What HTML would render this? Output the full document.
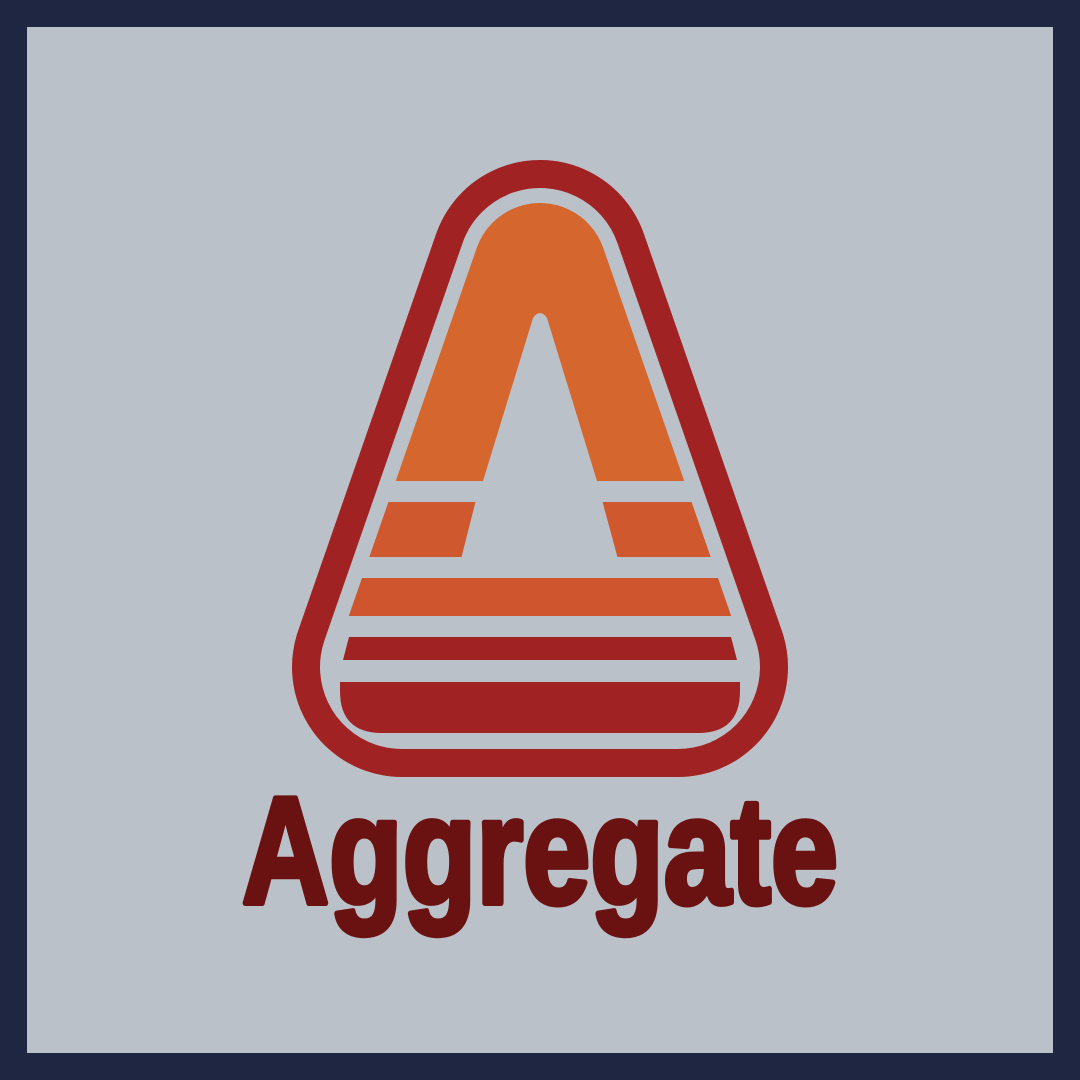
<!DOCTYPE html>
<html><head><meta charset="utf-8"><style>
html,body{margin:0;padding:0;background:#1f2641;}
svg{display:block;}
</style></head><body>
<svg width="1080" height="1080" viewBox="0 0 1080 1080">
  <defs>
    <mask id="inner" maskUnits="userSpaceOnUse" x="0" y="0" width="1080" height="1080">
      <rect x="0" y="0" width="1080" height="1080" fill="#000"/>
      <polygon points="540,270 402,667 678,667" fill="#fff" stroke="#fff" stroke-width="134" stroke-linejoin="round"/>
    </mask>
  </defs>
  <rect x="0" y="0" width="1080" height="1080" fill="#1f2641"/>
  <rect x="27" y="27" width="1026" height="1026" fill="#bbc1c8"/>
  <polygon points="540,270 402,667 678,667" fill="#a02222" stroke="#a02222" stroke-width="220" stroke-linejoin="round"/>
  <polygon points="540,270 402,667 678,667" fill="#bbc1c8" stroke="#bbc1c8" stroke-width="164" stroke-linejoin="round"/>
  <g mask="url(#inner)">
    <rect x="200" y="190" width="700" height="291" fill="#d5672e"/>
    <rect x="200" y="502" width="700" height="55" fill="#d0582e"/>
    <rect x="200" y="578" width="700" height="38" fill="#cf552e"/>
  </g>
  <polygon points="349,637 731,637 737,660 343,660" fill="#a02222"/>
  <path d="M340,682 L740,682 L740,691 Q740,733 698,733 L382,733 Q340,733 340,691 Z" fill="#a02222"/>
  <path d="M483,481 L533,318 Q540,308 547,318 L597,481 Z" fill="#bbc1c8"/>
  <polygon points="476,500 461,559 618,559 602,500" fill="#bbc1c8"/>
  <text x="242" y="903" textLength="596" lengthAdjust="spacingAndGlyphs" font-family="'Liberation Sans Narrow','Liberation Sans',sans-serif" font-weight="bold" font-size="152" fill="#6a1212" stroke="#6a1212" stroke-width="6" stroke-linejoin="round">Aggregate</text>
</svg>
</body></html>
